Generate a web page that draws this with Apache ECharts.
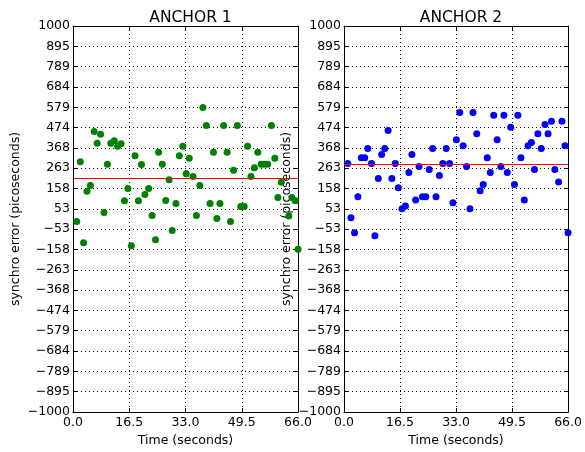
<!DOCTYPE html>
<html lang="en">
<head>
<meta charset="UTF-8" />
<title>synchro error</title>
<style>
  * { margin: 0; padding: 0; }
  #main { width: 585px; height: 452px; background: #fff; }
</style>
</head>
<body>
<div id="main"></div>
<script src="https://cdn.jsdelivr.net/npm/echarts@6/dist/echarts.min.js"></script>
<script>
// ANCHOR 1 (green)
var time1 = [1.1, 2.15, 3.1, 4.1, 5.1, 6.2, 7.1, 8.1, 9.1, 10.1,
  11.1, 12.1, 13.1, 14.1, 15.1, 16.1, 17.1, 18.2, 19.2, 20.1,
  21.1, 22.2, 23.2, 24.2, 25.1, 26.2, 27.2, 28.2, 29.1, 30.2,
  31.2, 32.2, 33.2, 34.1, 35.2, 36.2, 37.2, 38.1, 39.1, 40.2,
  41.2, 42.2, 43.1, 44.2, 45.2, 46.2, 47.1, 48.2, 49.2, 50.2,
  51.2, 52.2, 53.2, 54.2, 55.2, 56.1, 57.1, 58.2, 59.2, 60.1,
  61.1, 63.3, 64.2, 65.2, 66];
var err1 = [-13, 297, -123, 144, 173, 454, 392, 439, 34, 284,
  392, 406, 377, 390, 94, 158, -138, 328, 94, 282,
  127, 158, 18, -107, 346, 284, 96, 204, -59, 80,
  328, 377, 235, 315, 220, 18, 173, 578, 485, 80,
  346, 3, 80, 485, 346, -13, 253, 485, 65, 65,
  377, 220, 266, 346, 284, 284, 284, 485, 315, 111,
  190, 16, 111, 95, -157];
var mean1 = 213;

// ANCHOR 2 (blue)
var time2 = [1.1, 2.05, 3.1, 4.1, 5.1, 6.1, 7.0, 8.1, 9.1, 10.1,
  11.1, 12.0, 13.0, 14.1, 15.1, 16.0, 17.1, 18.1, 19.1, 20.0,
  21.1, 22.1, 23.1, 24.1, 25.1, 26.1, 27.1, 28.1, 29.1, 30.1,
  31.1, 32.1, 33.1, 34.1, 35.1, 36.1, 37.1, 38.0, 39.1, 40.1,
  41.0, 42.2, 43.1, 44.1, 45.1, 46.2, 47.1, 48.1, 49.1, 50.2,
  51.2, 52.1, 53.1, 54.2, 55.2, 56.1, 57.1, 58.1, 59.2, 60.1,
  61.1, 62.1, 63.2, 64.2, 65.1, 66];
var err2 = [287, 6, -71, 115, 318, 318, 365, 287, -87, 210,
  334, 365, 458, 210, 287, 162, 53, 68, 241, 334,
  99, 272, 115, 115, 256, 365, 115, 225, 287, 365,
  287, 84, 411, 552, 380, 272, 53, 552, 442, 146,
  179, 318, 241, 537, 411, 272, 537, 241, 475, 179,
  537, 318, 99, 380, 396, 256, 442, 365, 490, 442,
  506, 256, 192, 506, 380, -71];
var mean2 = 282;

// ticks
var xTicks = [0, 16.5, 33, 49.5, 66];
var yTicks = [-1000, -895, -789, -684, -579, -474, -368, -263, -158, -53,
  53, 158, 263, 368, 474, 579, 684, 789, 895, 1000];

var font = "DejaVu Sans";
var chart = echarts.init(document.getElementById("main"), null, { renderer: "canvas" });

function pairs(t, v) {
  return t.map(function (x, i) { return [x, v[i]]; });
}

var dotted = { color: "#000", width: 1, type: [1, 3] };
var axisLine = { show: true, onZero: false, lineStyle: { color: "#000", width: 1 } };
var tick = { show: true, inside: true, length: 4, lineStyle: { color: "#000" } };

function xAxes(grid) {
  return [
    {
      gridIndex: grid, type: "value", position: "bottom",
      min: 0, max: 66, interval: 16.5,
      name: "Time (seconds)", nameLocation: "middle", nameGap: 21,
      nameTextStyle: { fontFamily: font, fontSize: 12.5, color: "#000" },
      axisLine: axisLine, axisTick: tick,
      axisLabel: { fontFamily: font, fontSize: 12.5, color: "#000", margin: 4,
        formatter: function (v) { return v.toFixed(1); } },
      splitLine: { show: true, lineStyle: dotted }
    },
    {
      gridIndex: grid, type: "value", position: "top",
      min: 0, max: 66, interval: 16.5,
      axisLine: axisLine, axisTick: tick,
      axisLabel: { show: false }, splitLine: { show: false }
    }
  ];
}

function yAxes(grid) {
  return [
    {
      gridIndex: grid, type: "value", position: "left",
      min: -1000, max: 1000,
      name: "synchro error (picoseconds)", nameLocation: "middle", nameGap: 51,
      nameTextStyle: { fontFamily: font, fontSize: 12.5, color: "#000" },
      axisLine: axisLine,
      axisTick: { show: true, inside: true, length: 4, lineStyle: { color: "#000" }, customValues: yTicks },
      axisLabel: { fontFamily: font, fontSize: 12.5, color: "#000", margin: 3, customValues: yTicks,
        formatter: function (v) { return String(v).replace("-", "\u2212"); } },
      splitLine: { show: true, lineStyle: dotted }
    },
    {
      gridIndex: grid, type: "value", position: "right",
      min: -1000, max: 1000,
      axisLine: axisLine,
      axisTick: { show: true, inside: true, length: 4, lineStyle: { color: "#000" }, customValues: yTicks },
      axisLabel: { show: false, customValues: yTicks }, splitLine: { show: false }
    }
  ];
}

function scatter(idx, data, color, mean) {
  return {
    type: "scatter", xAxisIndex: idx * 2, yAxisIndex: idx * 2,
    data: data, symbol: "circle", symbolSize: 7,
    itemStyle: { color: color, opacity: 1 },
    markLine: {
      silent: true, symbol: ["none", "none"], animation: false,
      label: { show: false },
      lineStyle: { color: "#ff0000", width: 1, type: "solid" },
      data: [{ yAxis: mean }]
    }
  };
}

var titleStyle = { fontFamily: font, fontSize: 15.5, fontWeight: "normal", color: "#000" };

chart.setOption({
  animation: false,
  backgroundColor: "#fff",
  title: [
    { text: "ANCHOR 1", left: 185.5, top: 5, textAlign: "center", textStyle: titleStyle },
    { text: "ANCHOR 2", left: 456, top: 5, textAlign: "center", textStyle: titleStyle }
  ],
  grid: [
    { left: 73, top: 26, width: 225, height: 386, show: false },
    { left: 344, top: 26, width: 225, height: 386, show: false }
  ],
  xAxis: xAxes(0).concat(xAxes(1)),
  yAxis: yAxes(0).concat(yAxes(1)),
  series: [
    scatter(0, pairs(time1, err1), "#008000", mean1),
    scatter(1, pairs(time2, err2), "#0000ff", mean2)
  ]
});
</script>
</body>
</html>
